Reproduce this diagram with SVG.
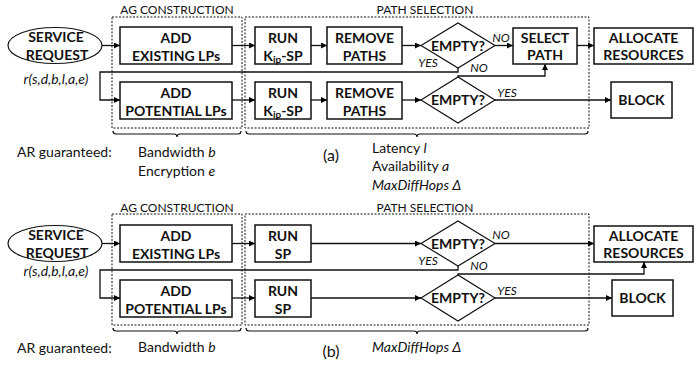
<svg xmlns="http://www.w3.org/2000/svg" width="698" height="367" viewBox="0 0 698 367">
<defs>
<marker id="arr" viewBox="0 0 8 8" refX="8" refY="4" markerWidth="6" markerHeight="6" orient="auto" markerUnits="userSpaceOnUse">
<path d="M0,0 L8,4 L0,8 z" fill="#000"/>
</marker>
</defs>
<style>
text{font-family:Lato,"Open Sans","Liberation Sans",sans-serif;fill:#111}
.box{fill:#fff;stroke:#111;stroke-width:1.5}
.dia{fill:#fff;stroke:#111;stroke-width:1.2}
.ell{fill:#fff;stroke:#111;stroke-width:1.2}
.b{font-weight:bold;font-size:14px;text-anchor:middle}
.sub{font-size:10px}
.lbl{font-style:italic;font-size:12px}
.hd{font-size:12px}
.tx{font-size:14px}
.cap{font-size:16px;text-anchor:middle}
.it{font-style:italic}
.conn path{stroke:#111;stroke-width:1.3;fill:none}
.ar{marker-end:url(#arr)}
.dash{stroke:#111;stroke-width:1;stroke-dasharray:2,1.5;fill:none}
.brace{stroke:#111;stroke-width:1.2;fill:none}
</style>

<!-- ================= PANEL (a) ================= -->
<g id="a-frames">
<rect class="dash" x="112" y="17" width="130" height="111"/>
<rect class="dash" x="245" y="17" width="344" height="111"/>
<text class="hd" x="177" y="14" text-anchor="middle">AG CONSTRUCTION</text>
<text class="hd" x="425" y="14" text-anchor="middle">PATH SELECTION</text>
<path class="brace" d="M113,131 Q113,134 116,134 L174,134 Q177,134 177,137 Q177,134 180,134 L238,134 Q241,134 241,131"/>
<path class="brace" d="M246,131 Q246,134 249,134 L414,134 Q417,134 417,137 Q417,134 420,134 L585,134 Q588,134 588,131"/>
</g>

<g id="a-conn" class="conn">
<path class="ar" d="M102,45.5 L120,45.5"/>
<path class="ar" d="M232,45.5 L255,45.5"/>
<path class="ar" d="M311,45.5 L327,45.5"/>
<path class="ar" d="M402,45.5 L421,45.5"/>
<path class="ar" d="M495,45.5 L513,45.5"/>
<path class="ar" d="M577,45.5 L594,45.5"/>
<path class="ar" d="M458,68 L458,72 L100,72 L100,100 L120,100"/>
<path class="ar" d="M232,100 L255,100"/>
<path class="ar" d="M311,100 L327,100"/>
<path class="ar" d="M402,100 L421,100"/>
<path class="ar" d="M495,100 L611,100"/>
<path class="ar" d="M458,77 L458,76 L545,76 L545,64"/>
</g>

<g id="a-request">
<ellipse class="ell" cx="55" cy="45.5" rx="47" ry="18"/>
<text class="b" x="56" y="42">SERVICE</text>
<text class="b" x="57" y="60">REQUEST</text>
<text class="tx it" x="56" y="84" text-anchor="middle">r(s,d,b,l,a,e)</text>
</g>
<g id="a-add-existing">
<rect class="box" x="120" y="27" width="112" height="37"/>
<text class="b" x="176" y="43">ADD</text>
<text class="b" x="176" y="61">EXISTING LPs</text>
</g>
<g id="a-add-potential">
<rect class="box" x="120" y="82" width="112" height="37"/>
<text class="b" x="176" y="98">ADD</text>
<text class="b" x="176" y="116">POTENTIAL LPs</text>
</g>
<g id="a-run1">
<rect class="box" x="255" y="27" width="56" height="37"/>
<text class="b" x="283" y="43">RUN</text>
<text class="b" x="283" y="61">K<tspan class="sub" dy="2">ip</tspan><tspan dy="-2">-SP</tspan></text>
</g>
<g id="a-run2">
<rect class="box" x="255" y="82" width="56" height="37"/>
<text class="b" x="283" y="98">RUN</text>
<text class="b" x="283" y="116">K<tspan class="sub" dy="2">ip</tspan><tspan dy="-2">-SP</tspan></text>
</g>
<g id="a-remove1">
<rect class="box" x="327" y="27" width="75" height="37"/>
<text class="b" x="364.5" y="43">REMOVE</text>
<text class="b" x="364.5" y="61">PATHS</text>
</g>
<g id="a-remove2">
<rect class="box" x="327" y="82" width="75" height="37"/>
<text class="b" x="364.5" y="98">REMOVE</text>
<text class="b" x="364.5" y="116">PATHS</text>
</g>
<g id="a-empty1">
<polygon class="dia" points="421,45.5 458,23 495,45.5 458,68"/>
<text class="b" x="458" y="51">EMPTY?</text>
</g>
<g id="a-empty2">
<polygon class="dia" points="421,100 458,77 495,100 458,123"/>
<text class="b" x="458" y="105">EMPTY?</text>
</g>
<g id="a-select">
<rect class="box" x="513" y="28" width="64" height="36"/>
<text class="b" x="545" y="43">SELECT</text>
<text class="b" x="545" y="60">PATH</text>
</g>
<g id="a-allocate">
<rect class="box" x="594" y="28" width="99" height="36"/>
<text class="b" x="643.5" y="43">ALLOCATE</text>
<text class="b" x="643.5" y="60">RESOURCES</text>
</g>
<g id="a-block">
<rect class="box" x="611" y="82" width="61" height="36"/>
<text class="b" x="641.5" y="105">BLOCK</text>
</g>
<g id="a-labels">
<text class="lbl" x="501" y="42" text-anchor="middle">NO</text>
<text class="lbl" x="428" y="67" text-anchor="middle">YES</text>
<text class="lbl" x="479" y="72" text-anchor="middle">NO</text>
<text class="lbl" x="507" y="97" text-anchor="middle">YES</text>
<text class="tx" x="17" y="157">AR guaranteed:</text>
<text class="tx" x="138" y="157">Bandwidth <tspan class="it">b</tspan></text>
<text class="tx" x="138" y="176">Encryption <tspan class="it">e</tspan></text>
<text class="cap" x="331" y="161">(a)</text>
<text class="tx" x="372" y="153">Latency <tspan class="it">l</tspan></text>
<text class="tx" x="372" y="171">Availability <tspan class="it">a</tspan></text>
<text class="tx it" x="372" y="190">MaxDiffHops Δ</text>
</g>

<!-- ================= PANEL (b) ================= -->
<g id="b-frames">
<rect class="dash" x="112" y="214" width="130" height="111"/>
<rect class="dash" x="245" y="214" width="344" height="111"/>
<text class="hd" x="177" y="212" text-anchor="middle">AG CONSTRUCTION</text>
<text class="hd" x="425" y="212" text-anchor="middle">PATH SELECTION</text>
<path class="brace" d="M113,328 Q113,331 116,331 L174,331 Q177,331 177,334 Q177,331 180,331 L238,331 Q241,331 241,328"/>
<path class="brace" d="M246,328 Q246,331 249,331 L414,331 Q417,331 417,334 Q417,331 420,331 L585,331 Q588,331 588,328"/>
</g>

<g id="b-conn" class="conn">
<path class="ar" d="M102,243.5 L120,243.5"/>
<path class="ar" d="M232,243.5 L255,243.5"/>
<path class="ar" d="M311,243.5 L421,243.5"/>
<path class="ar" d="M495,243.5 L594,243.5"/>
<path class="ar" d="M458,266 L458,270 L100,270 L100,298 L120,298"/>
<path class="ar" d="M232,298 L255,298"/>
<path class="ar" d="M311,298 L421,298"/>
<path class="ar" d="M495,298 L612,298"/>
<path class="ar" d="M458,275 L458,274 L644,274 L644,262"/>
</g>

<g id="b-request">
<ellipse class="ell" cx="55" cy="243.5" rx="47" ry="18"/>
<text class="b" x="56" y="240">SERVICE</text>
<text class="b" x="57" y="258">REQUEST</text>
<text class="tx it" x="56" y="276" text-anchor="middle">r(s,d,b,l,a,e)</text>
</g>
<g id="b-add-existing">
<rect class="box" x="120" y="225" width="112" height="37"/>
<text class="b" x="176" y="241">ADD</text>
<text class="b" x="176" y="259">EXISTING LPs</text>
</g>
<g id="b-add-potential">
<rect class="box" x="120" y="280" width="112" height="37"/>
<text class="b" x="176" y="296">ADD</text>
<text class="b" x="176" y="314">POTENTIAL LPs</text>
</g>
<g id="b-run1">
<rect class="box" x="255" y="225" width="56" height="37"/>
<text class="b" x="283" y="241">RUN</text>
<text class="b" x="283" y="259">SP</text>
</g>
<g id="b-run2">
<rect class="box" x="255" y="280" width="56" height="37"/>
<text class="b" x="283" y="296">RUN</text>
<text class="b" x="283" y="314">SP</text>
</g>
<g id="b-empty1">
<polygon class="dia" points="421,243.5 458,221 495,243.5 458,266"/>
<text class="b" x="458" y="249">EMPTY?</text>
</g>
<g id="b-empty2">
<polygon class="dia" points="421,298 458,275 495,298 458,321"/>
<text class="b" x="458" y="303">EMPTY?</text>
</g>
<g id="b-allocate">
<rect class="box" x="594" y="226" width="99" height="36"/>
<text class="b" x="643.5" y="241">ALLOCATE</text>
<text class="b" x="643.5" y="258">RESOURCES</text>
</g>
<g id="b-block">
<rect class="box" x="612" y="280" width="61" height="36"/>
<text class="b" x="642.5" y="303">BLOCK</text>
</g>
<g id="b-labels">
<text class="lbl" x="501" y="239" text-anchor="middle">NO</text>
<text class="lbl" x="428" y="265" text-anchor="middle">YES</text>
<text class="lbl" x="479" y="270" text-anchor="middle">NO</text>
<text class="lbl" x="507" y="295" text-anchor="middle">YES</text>
<text class="tx" x="17" y="353">AR guaranteed:</text>
<text class="tx" x="138" y="352">Bandwidth <tspan class="it">b</tspan></text>
<text class="cap" x="331" y="357">(b)</text>
<text class="tx it" x="372" y="352">MaxDiffHops Δ</text>
</g>
</svg>
